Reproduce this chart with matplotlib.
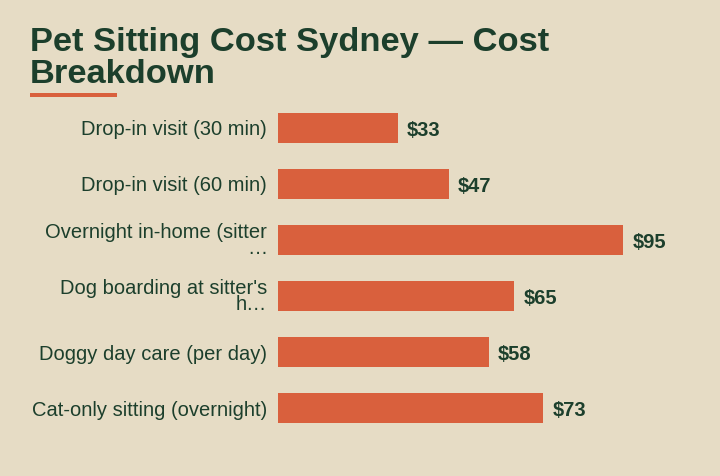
import matplotlib.pyplot as plt
from matplotlib.patches import Rectangle

plt.rcParams['font.family'] = ['Liberation Sans', 'DejaVu Sans']

BG = '#e6dcc5'
BAR = '#d9603d'
INK = '#1c3f2c'

title = 'Pet Sitting Cost Sydney \u2014 Cost\nBreakdown'
services = [
    'Drop-in visit (30 min)',
    'Drop-in visit (60 min)',
    'Overnight in-home (sitter\n\u2026',
    "Dog boarding at sitter's\nh\u2026",
    'Doggy day care (per day)',
    'Cat-only sitting (overnight)',
]
costs = [33, 47, 95, 65, 58, 73]

fig = plt.figure(figsize=(7.2, 4.76), dpi=100, facecolor=BG)
ax = fig.add_axes([278 / 720, 1 - 436 / 476, 397 / 720, 336 / 476])
ax.set_facecolor(BG)

y = list(range(len(services)))
bars = ax.barh(y, costs, height=0.55, color=BAR)
ax.set_ylim(len(services) - 0.5, -0.5)
ax.set_xlim(0, max(costs) * 1.15)

ax.set_yticks(y)
ax.set_yticklabels(services, fontsize=14.5, color=INK, linespacing=0.82)
ax.tick_params(axis='y', length=0, pad=8)
ax.set_xticks([])
for s in ax.spines.values():
    s.set_visible(False)

for b, v in zip(bars, costs):
    ax.annotate(f'${v}', (b.get_width(), b.get_y() + b.get_height() / 2),
                xytext=(6.5, -1.5), textcoords='offset points',
                va='center', ha='left', fontsize=14.5,
                fontweight='bold', color=INK)

# baseline alignment uses the last line for multi-line text
fig.text(30 / 720, 1 - 83 / 476, title, fontsize=24.8, fontweight='bold',
         color=INK, va='baseline', ha='left', linespacing=1.04)
fig.add_artist(Rectangle((30 / 720, 1 - 97 / 476), 87 / 720, 4 / 476,
                         transform=fig.transFigure, color=BAR, lw=0))

fig.savefig('out.png', dpi=100, facecolor=BG)
